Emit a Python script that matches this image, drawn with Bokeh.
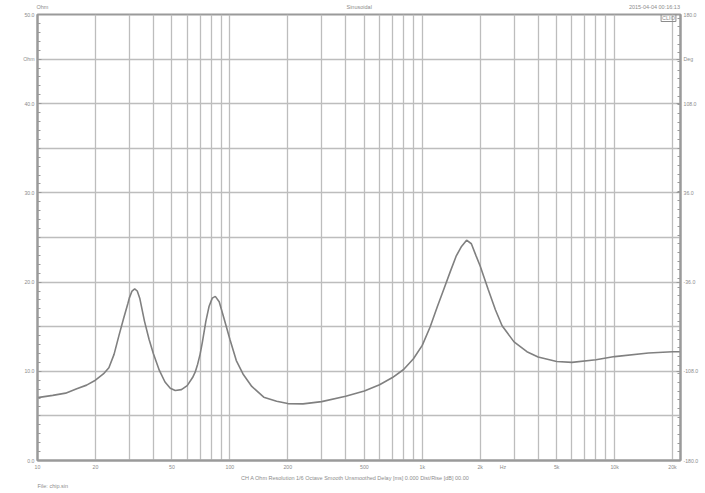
from bokeh.plotting import figure
from bokeh.models import (FixedTicker, LinearAxis, LogAxis, Range1d, Label, Title)
from bokeh.embed import file_html
from bokeh.resources import INLINE

# ---- data (impedance magnitude vs frequency) ----
freq_hz = [10, 12, 14, 16, 18, 20, 22, 23.5, 25, 26.5, 28, 29.5, 30, 31, 32, 33, 34, 36, 38,
           40, 43, 46, 49, 52, 56, 60, 64, 66, 68, 70, 72, 75, 78, 81, 84, 88, 93, 100,
           108, 117, 130, 150, 175, 200, 240, 300, 400, 500, 600, 700, 800, 900, 1000,
           1100, 1200, 1300, 1400, 1500, 1600, 1700, 1800, 1900, 2000, 2200, 2400, 2600,
           3000, 3500, 4000, 5000, 6000, 8000, 10000, 15000, 20000, 22000]
impedance_ohm = [7.05, 7.3, 7.55, 8.05, 8.45, 9.0, 9.7, 10.4, 11.9, 14.0, 15.9, 17.6, 18.2, 19.0,
                 19.25, 19.0, 18.2, 15.6, 13.6, 12.0, 10.1, 8.8, 8.1, 7.85, 7.95, 8.4, 9.3, 9.9,
                 10.8, 11.9, 13.3, 15.6, 17.3, 18.2, 18.4, 17.8, 16.0, 13.6, 11.2, 9.7, 8.3,
                 7.1, 6.65, 6.38, 6.35, 6.6, 7.2, 7.8, 8.5, 9.3, 10.2, 11.4, 12.9, 15.0, 17.3,
                 19.3, 21.2, 22.9, 24.0, 24.7, 24.3, 23.0, 21.8, 19.2, 16.9, 15.1, 13.3, 12.2,
                 11.6, 11.1, 11.0, 11.3, 11.65, 12.05, 12.2, 12.2]

x_ticks = [10, 20, 50, 100, 200, 500, 1000, 2000, 2630, 5000, 10000, 20000]
x_tick_labels = ["10", "20", "50", "100", "200", "500", "1k", "2k", "Hz", "5k", "10k", "20k"]
x_grid = ([10, 20, 30, 40, 50, 60, 70, 80, 90] + [100, 200, 300, 400, 500, 600, 700, 800, 900]
          + [1000, 2000, 3000, 4000, 5000, 6000, 7000, 8000, 9000] + [10000, 20000])
y_ticks = [0, 10, 20, 30, 40, 45, 50]
y_tick_labels = ["0.0", "10.0", "20.0", "30.0", "40.0", "Ohm", "50.0"]
y_grid = [5, 10, 15, 20, 25, 30, 35, 40, 45]
deg_ticks = [-180, -108, -36, 36, 108, 144, 180]
deg_tick_labels = ["-180.0", "-108.0", "-36.0", "36.0", "108.0", "Deg", "180.0"]

header_pos = [10.6, 470, 16100]
header_texts = ["Ohm", "Sinusoidal", "2015-04-04 00:16:13"]
footer_info = "CH A  Ohm  Resolution 1/6 Octave  Smooth Unsmoothed  Delay [ms] 0.000  Dist/Rise [dB] 00.00"
footer_file = "File: chip.sin"

FONT = "Liberation Sans"
TXT = "#8c8c8c"
AX = "#9a9a9a"
GRID = "#bdbdbd"
TICK_FS = "5.2px"
NOTE_FS = "5.5px"

p = figure(frame_width=643, frame_height=446, x_axis_type="log", x_range=(10, 22000), y_range=(0, 50),
           output_backend="svg", toolbar_location=None,
           min_border_left=37, min_border_right=25, min_border_top=14, min_border_bottom=33)
p.background_fill_color = "white"
p.border_fill_color = "white"
p.outline_line_color = AX
p.outline_line_width = 2

p.extra_y_ranges = {"deg": Range1d(-180, 180)}

# grids
p.xgrid.ticker = FixedTicker(ticks=x_grid)
p.ygrid.ticker = FixedTicker(ticks=y_grid)
for g in (p.xgrid, p.ygrid):
    g.grid_line_color = GRID
    g.grid_line_width = 1.3
    g.grid_line_alpha = 1.0

# x axis
xa = p.xaxis[0]
xa.ticker = FixedTicker(ticks=x_ticks)
xa.major_label_overrides = {t: l for t, l in zip(x_ticks, x_tick_labels)}
xa.major_tick_out = 0
xa.major_tick_in = 0
xa.minor_tick_out = 0
xa.minor_tick_in = 0
xa.axis_line_color = AX
xa.axis_line_width = 2
xa.major_label_standoff = 3

# header line, drawn as an unlined axis above the frame
ta = LogAxis(ticker=FixedTicker(ticks=header_pos))
ta.major_label_overrides = {t: l for t, l in zip(header_pos, header_texts)}
ta.major_tick_out = 0
ta.major_tick_in = 0
ta.minor_tick_out = 0
ta.minor_tick_in = 0
ta.axis_line_color = None
ta.major_label_standoff = 5
p.add_layout(ta, "above")

# left axis
ya = p.yaxis[0]
ya.ticker = FixedTicker(ticks=y_ticks, minor_ticks=list(range(0, 51)))
ya.major_label_overrides = {t: l for t, l in zip(y_ticks, y_tick_labels)}
ya.major_tick_out = 0
ya.major_tick_in = 4
ya.minor_tick_out = 0
ya.minor_tick_in = 3
ya.axis_line_color = AX
ya.axis_line_width = 2
ya.major_tick_line_color = AX
ya.minor_tick_line_color = AX
ya.major_label_standoff = 3

# right axis (phase)
ra = LinearAxis(y_range_name="deg",
                ticker=FixedTicker(ticks=deg_ticks, minor_ticks=list(range(-180, 181, 7))))
ra.major_label_overrides = {t: l for t, l in zip(deg_ticks, deg_tick_labels)}
ra.major_tick_out = 0
ra.major_tick_in = 4
ra.minor_tick_out = 0
ra.minor_tick_in = 3
ra.axis_line_color = AX
ra.axis_line_width = 2
ra.major_tick_line_color = AX
ra.minor_tick_line_color = AX
ra.major_label_standoff = 3
p.add_layout(ra, "right")

for ax in (xa, ya, ra):
    ax.major_label_text_font = FONT
    ax.major_label_text_font_size = TICK_FS
    ax.major_label_text_color = TXT
ta.major_label_text_font = FONT
ta.major_label_text_font_size = NOTE_FS
ta.major_label_text_color = TXT

# footer lines
for txt, al in ((footer_info, "center"), (footer_file, "left")):
    t = Title(text=txt, align=al, text_font=FONT, text_font_size=NOTE_FS,
              text_color=TXT, text_font_style="normal", standoff=0)
    p.add_layout(t, "below")

# curve
p.line(freq_hz, impedance_ohm, line_color="#808080", line_width=1.6)

# CLIO badge inside the frame (top right)
clio = Label(x=631, y=443, x_units="screen", y_units="screen", text="CLIO",
             text_font=FONT, text_font_size=NOTE_FS, text_color=TXT, text_align="center",
             text_baseline="middle", border_line_color=TXT, border_line_width=1, padding=1)
p.add_layout(clio)

open("out.html", "w").write(file_html(p, INLINE))
